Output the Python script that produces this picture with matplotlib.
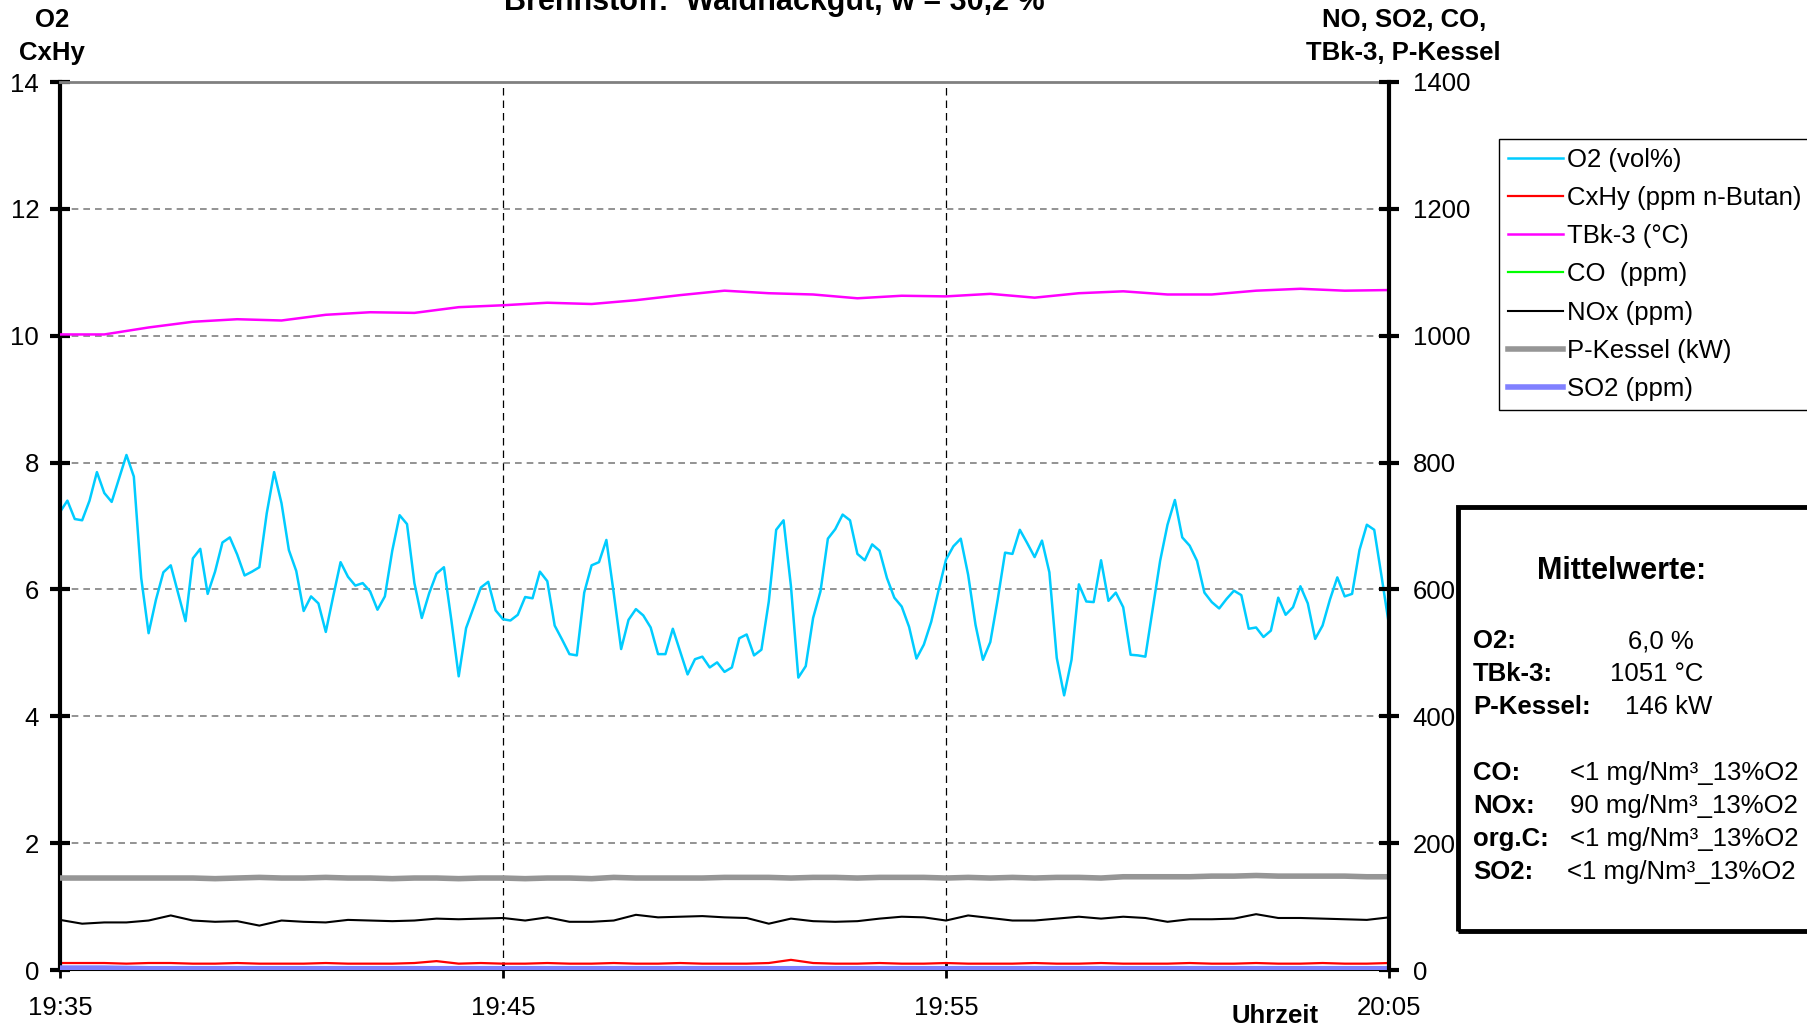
import numpy as np
import pandas as pd
import matplotlib
matplotlib.use("Agg")
import matplotlib.pyplot as plt
import matplotlib.dates as mdates
from matplotlib.patches import Rectangle

# --- data ---
title = "Brennstoff:  Waldhackgut, w = 30,2 %"

t10 = pd.date_range("2000-01-01 19:35:00", "2000-01-01 20:05:00", freq="10s")
t30 = pd.date_range("2000-01-01 19:35:00", "2000-01-01 20:05:00", freq="30s")
t60 = pd.date_range("2000-01-01 19:35:00", "2000-01-01 20:05:00", freq="1min")

# O2 in vol%, every 10 s
o2 = [7.22, 7.40, 7.11, 7.09, 7.40, 7.85, 7.52, 7.38, 7.75, 8.12,
      7.78, 6.18, 5.31, 5.84, 6.27, 6.38, 5.94, 5.50, 6.49, 6.64,
      5.93, 6.28, 6.74, 6.82, 6.55, 6.22, 6.28, 6.35, 7.20, 7.85,
      7.36, 6.62, 6.29, 5.66, 5.89, 5.78, 5.33, 5.89, 6.43, 6.20,
      6.06, 6.10, 5.97, 5.68, 5.89, 6.61, 7.17, 7.03, 6.10, 5.55,
      5.94, 6.25, 6.35, 5.52, 4.63, 5.39, 5.71, 6.03, 6.12, 5.67,
      5.53, 5.51, 5.60, 5.88, 5.86, 6.28, 6.13, 5.43, 5.21, 4.98,
      4.96, 5.95, 6.38, 6.43, 6.78, 5.94, 5.06, 5.52, 5.69, 5.59,
      5.40, 4.98, 4.98, 5.38, 5.02, 4.66, 4.90, 4.94, 4.77, 4.85,
      4.70, 4.77, 5.23, 5.29, 4.96, 5.05, 5.81, 6.94, 7.09, 6.05,
      4.61, 4.79, 5.55, 5.97, 6.80, 6.95, 7.18, 7.09, 6.56, 6.46,
      6.71, 6.61, 6.18, 5.87, 5.73, 5.41, 4.91, 5.13, 5.49, 5.99,
      6.47, 6.68, 6.80, 6.23, 5.44, 4.89, 5.17, 5.84, 6.58, 6.56,
      6.94, 6.73, 6.51, 6.77, 6.27, 4.92, 4.33, 4.89, 6.08, 5.81,
      5.80, 6.46, 5.82, 5.95, 5.72, 4.97, 4.96, 4.94, 5.70, 6.45,
      7.02, 7.41, 6.82, 6.69, 6.45, 5.95, 5.80, 5.70, 5.85, 5.98,
      5.91, 5.38, 5.40, 5.25, 5.35, 5.87, 5.60, 5.72, 6.05, 5.78,
      5.22, 5.43, 5.84, 6.19, 5.89, 5.93, 6.62, 7.02, 6.94, 6.20,
      5.44]

# CxHy in ppm n-Butan, every 30 s
cxhy = [0.11, 0.11, 0.11, 0.10, 0.11, 0.11, 0.10, 0.10, 0.11, 0.10,
        0.10, 0.10, 0.11, 0.10, 0.10, 0.10, 0.11, 0.14, 0.10, 0.11,
        0.10, 0.10, 0.11, 0.10, 0.10, 0.11, 0.10, 0.10, 0.11, 0.10,
        0.10, 0.10, 0.11, 0.16, 0.11, 0.10, 0.10, 0.11, 0.10, 0.10,
        0.11, 0.10, 0.10, 0.10, 0.11, 0.10, 0.10, 0.11, 0.10, 0.10,
        0.10, 0.11, 0.10, 0.10, 0.11, 0.10, 0.10, 0.11, 0.10, 0.10,
        0.11]

# NOx in ppm, every 30 s
nox = [79, 73, 75, 75, 78, 86, 78, 76, 77, 70,
       78, 76, 75, 79, 78, 77, 78, 81, 80, 81,
       82, 78, 83, 76, 76, 78, 87, 83, 84, 85,
       83, 82, 73, 81, 77, 76, 77, 81, 84, 83,
       78, 86, 82, 78, 78, 81, 84, 81, 84, 82,
       76, 80, 80, 81, 88, 82, 82, 81, 80, 79,
       83]

# P-Kessel in kW, every 30 s
p_kessel = [145, 145, 145, 145, 145, 145, 145, 144, 145, 146,
            145, 145, 146, 145, 145, 144, 145, 145, 144, 145,
            145, 144, 145, 145, 144, 146, 145, 145, 145, 145,
            146, 146, 146, 145, 146, 146, 145, 146, 146, 146,
            145, 146, 145, 146, 145, 146, 146, 145, 147, 147,
            147, 147, 148, 148, 149, 148, 148, 148, 148, 147,
            147]

# TBk-3 in degC, every minute
tbk3 = [1002, 1002, 1013, 1022, 1026, 1024, 1033, 1037, 1036, 1045,
        1048, 1052, 1050, 1056, 1064, 1071, 1067, 1065, 1059, 1063,
        1062, 1066, 1060, 1067, 1070, 1065, 1065, 1071, 1074, 1071,
        1072]

# CO and SO2 in ppm, every minute
co = [0, 0, 0, 0, 0, 0, 0, 0, 0, 0,
      0, 0, 0, 0, 0, 0, 0, 0, 0, 0,
      0, 0, 0, 0, 0, 0, 0, 0, 0, 0,
      0]
so2 = [3, 3, 2, 2, 2, 2, 2, 2, 2, 2,
       2, 2, 2, 2, 2, 2, 2, 2, 2, 2,
       2, 2, 2, 2, 2, 2, 2, 2, 2, 2,
       2]

mean_labels = ["O2:", "TBk-3:", "P-Kessel:", "CO:", "NOx:", "org.C:", "SO2:"]
mean_values = ["6,0 %", "1051 °C", "146 kW",
               "<1 mg/Nm³_13%O2", "90 mg/Nm³_13%O2",
               "<1 mg/Nm³_13%O2", "<1 mg/Nm³_13%O2"]

plt.rcParams["font.family"] = ["Liberation Sans", "DejaVu Sans"]
FS = 18.5

W, H = 1807, 1028
fig = plt.figure(figsize=(W / 100, H / 100), dpi=100)


def fx(px):
    return px / W


def fy(py):
    return 1 - py / H


ax = fig.add_axes([fx(60), fy(970), fx(1389 - 60), (970 - 82) / H])
ax2 = ax.twinx()

# left axis: O2, CxHy
l_o2, = ax.plot(t10, o2, color="#00CCFF", lw=1.8, label="O2 (vol%)")
l_cx, = ax.plot(t30, cxhy, color="#FF0000", lw=1.6, label="CxHy (ppm n-Butan)")

# right axis: the rest
l_tbk, = ax2.plot(t60, tbk3, color="#FF00FF", lw=1.8, label="TBk-3 (°C)")
l_co, = ax2.plot(t60, co, color="#00FF00", lw=1.6, label="CO  (ppm)")
l_nox, = ax2.plot(t30, nox, color="black", lw=1.5, label="NOx (ppm)")
l_pk, = ax2.plot(t30, p_kessel, color="#969696", lw=4, label="P-Kessel (kW)")
l_so2, = ax2.plot(t60, so2, color="#8080FF", lw=4, label="SO2 (ppm)")

ax.set_xlim(t10[0], t10[-1])
ax.set_ylim(0, 14)
ax2.set_ylim(0, 1400)
ax.set_yticks(np.arange(0, 15, 2))
ax2.set_yticks(np.arange(0, 1401, 200))
ax.xaxis.set_major_locator(mdates.MinuteLocator(byminute=[5, 35, 45, 55]))
ax.xaxis.set_major_formatter(mdates.DateFormatter("%H:%M"))

ax.yaxis.grid(True, color="#808080", linestyle=(0, (4, 3)), lw=1.2)
ax.xaxis.grid(True, color="black", linestyle=(0, (6, 4)), lw=0.9)

for s in ["left", "top", "bottom"]:
    ax2.spines[s].set_visible(False)
ax.spines["right"].set_visible(False)
ax.spines["left"].set_linewidth(3)
ax2.spines["right"].set_linewidth(3)
ax.spines["top"].set_color("#808080")
ax.spines["top"].set_linewidth(2)
ax.spines["bottom"].set_linewidth(1.5)

ax.tick_params(axis="y", direction="inout", length=14, width=3, labelsize=FS, pad=8)
ax2.tick_params(axis="y", direction="inout", length=14, width=3, labelsize=FS, pad=10)
ax.tick_params(axis="x", direction="inout", length=12, width=2, labelsize=FS, pad=13)

# legend
handles = [l_o2, l_cx, l_tbk, l_co, l_nox, l_pk, l_so2]
leg = fig.legend(handles, [h.get_label() for h in handles], loc="upper left",
                 bbox_to_anchor=(fx(1499), fy(139)), fontsize=FS, frameon=True,
                 fancybox=False, edgecolor="black", framealpha=1,
                 handlelength=2.15, handletextpad=0.15, labelspacing=0.55,
                 borderpad=0.35, borderaxespad=0)
leg.get_frame().set_linewidth(1)

# titles and axis captions
fig.text(fx(774), fy(10), title, ha="center", va="baseline", fontsize=22, fontweight="bold")
fig.text(fx(52), fy(20), "O2", ha="center", va="center", fontsize=FS, fontweight="bold")
fig.text(fx(52), fy(53), "CxHy", ha="center", va="center", fontsize=FS, fontweight="bold")
fig.text(fx(1404), fy(20), "NO, SO2, CO,", ha="center", va="center", fontsize=FS, fontweight="bold")
fig.text(fx(1403), fy(53), "TBk-3, P-Kessel", ha="center", va="center", fontsize=FS, fontweight="bold")
fig.text(fx(1275), fy(1016), "Uhrzeit", ha="center", va="center", fontsize=FS, fontweight="bold")

# box with mean values
fig.add_artist(Rectangle((fx(1458), fy(931)), fx(1900 - 1458), (931 - 507) / H,
                         transform=fig.transFigure, fill=False, lw=3.5, edgecolor="black"))
fig.text(fx(1622), fy(571), "Mittelwerte:", ha="center", va="center", fontsize=22, fontweight="bold")
row_y = [641, 674, 707, 773, 806, 839, 872]
val_x = [1628, 1610, 1625, 1570, 1570, 1570, 1567]
for lab, val, yy, xx in zip(mean_labels, mean_values, row_y, val_x):
    fig.text(fx(1473), fy(yy), lab, ha="left", va="center", fontsize=FS, fontweight="bold")
    fig.text(fx(xx), fy(yy), val, ha="left", va="center", fontsize=FS)

fig.savefig("out.png", dpi=100)
